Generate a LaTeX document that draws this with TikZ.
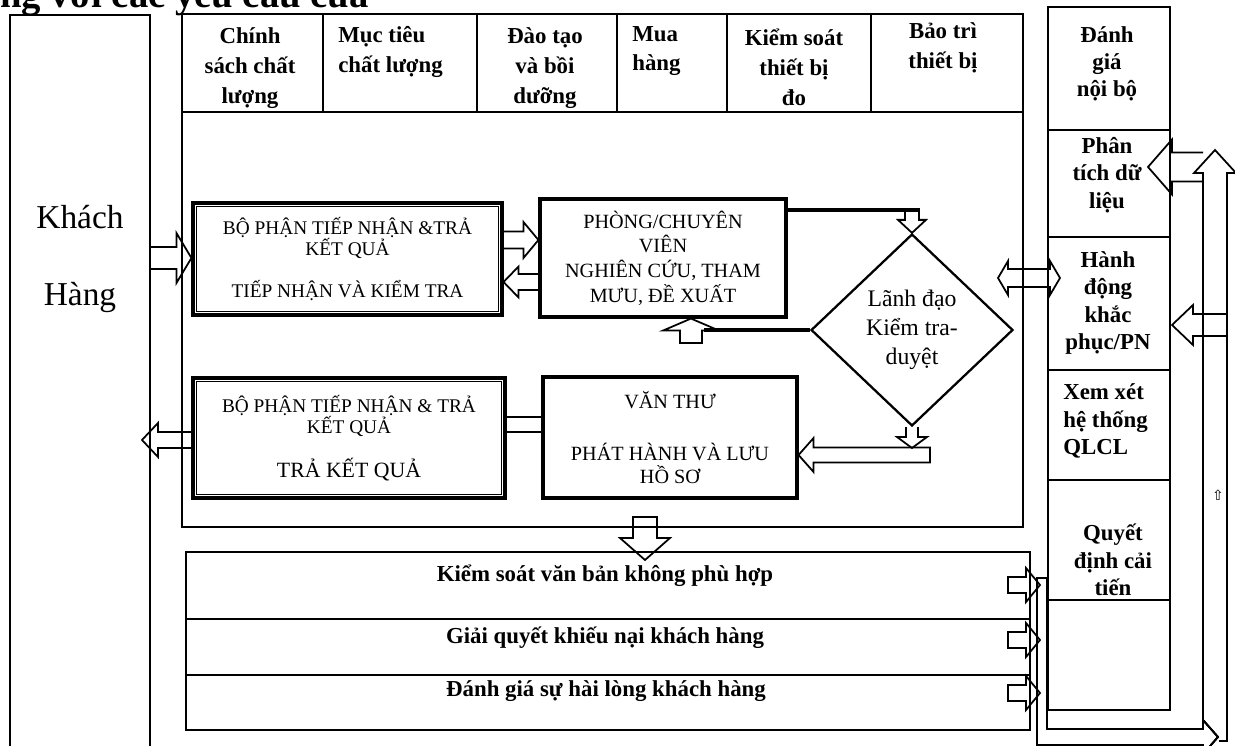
\documentclass[tikz,border=0pt]{standalone}
\usepackage{fontspec}
\setmainfont{Liberation Serif}
\newfontfamily\symfont{DejaVu Sans}
\usetikzlibrary{shapes.geometric,calc}

% block arrows: start, tip, head length (signed), shaft half, head half, closing
\newcommand{\harr}[6]{%
  \draw[blk] ($(#1)+(0,{-(#4)})$) -- ($(#2)+({-(#3)},{-(#4)})$) -- ($(#2)+({-(#3)},{-(#5)})$) -- (#2)
    -- ($(#2)+({-(#3)},{#5})$) -- ($(#2)+({-(#3)},{#4})$) -- ($(#1)+(0,{#4})$) #6;}
\newcommand{\varr}[6]{%
  \draw[blk] ($(#1)+({-(#4)},0)$) -- ($(#2)+({-(#4)},{-(#3)})$) -- ($(#2)+({-(#5)},{-(#3)})$) -- (#2)
    -- ($(#2)+({#5},{-(#3)})$) -- ($(#2)+({#4},{-(#3)})$) -- ($(#1)+({#4},0)$) #6;}

\begin{document}
\begin{tikzpicture}[x=0.02cm,y=-0.02cm,
  frame/.style={line width=.8pt},
  flow/.style={draw,line width=1.8pt,align=center,inner sep=0pt,font=\fontsize{11}{12}\selectfont},
  inset/.style={line width=.5pt},
  blk/.style={line width=1pt},
  thk/.style={line width=2.4pt},
  cell/.style={font=\fontsize{13}{17}\selectfont\bfseries,align=center,inner sep=0pt},
  side/.style={font=\fontsize{13}{15.5}\selectfont\bfseries,align=center,inner sep=0pt},
  row/.style={font=\fontsize{13}{15}\selectfont\bfseries,inner sep=0pt}]
\useasboundingbox (0,0) rectangle (1235,746);

% heading, cut by the page edge
\node[anchor=base west,inner sep=0pt,font=\fontsize{22}{22}\selectfont\bfseries] (head) at (0,8) {ng với các yêu cầu của};

% customer
\node[draw,frame,minimum width=2.8cm,minimum height=15.7cm] (kh) at (80,407.5) {};
\node[font=\fontsize{19}{23}\selectfont,align=center,inner sep=0pt] (khtxt) at (80,259) {Khách\\[21pt]Hàng};

% process frame and top row
\draw[frame] (182,14) rectangle (1023,527);
\draw[frame] (182,112) -- (1023,112);
\foreach \xx in {323,477,617,727,871} \draw[frame] (\xx,14) -- (\xx,112);
\node[cell] (cs) at (250,68) {Chính\\sách chất\\lượng};
\node[cell,align=left,anchor=west] (mt) at (338,52) {Mục tiêu\\chất lượng};
\node[cell] (dt) at (545,68) {Đào tạo\\và bồi\\dưỡng};
\node[cell,align=left,anchor=west] (mh) at (632,51) {Mua\\hàng};
\node[cell] (ks) at (794,67) {Kiểm soát\\thiết bị\\đo};
\node[cell] (bt) at (943,48) {Bảo trì\\thiết bị};

% flow
\node[flow,minimum width=6.18cm,minimum height=2.24cm] (bp1) at (347.5,259) {BỘ PHẬN TIẾP NHẬN \&TRẢ\\KẾT QUẢ\\[12pt]TIẾP NHẬN VÀ KIỂM TRA};
\node[flow,font=\fontsize{11.5}{14}\selectfont,minimum width=4.92cm,minimum height=2.36cm] (pcv) at (663,258) {PHÒNG/CHUYÊN\\VIÊN\\NGHIÊN CỨU, THAM\\MƯU, ĐỀ XUẤT};
\node[flow,minimum width=6.24cm,minimum height=2.4cm] (bp2) at (349,438) {BỘ PHẬN TIẾP NHẬN \& TRẢ\\KẾT QUẢ\\[11pt]{\fontsize{12.4}{14}\selectfont TRẢ KẾT QUẢ}};
\node[flow,font=\fontsize{11.5}{13.5}\selectfont,minimum width=5.08cm,minimum height=2.42cm] (vt) at (670,437.5) {VĂN THƯ\\[16pt]PHÁT HÀNH VÀ LƯU\\HỒ SƠ};
\node[diamond,draw,line width=1.3pt,inner sep=0pt,minimum width=4.04cm,minimum height=3.84cm,align=center,font=\fontsize{13.5}{16.4}\selectfont] (dld) at (912,330) {Lãnh đạo\\Kiểm tra-\\duyệt};
\foreach \bx in {bp1,bp2} \draw[inset] ($(\bx.south west)+(5,-5)$) rectangle ($(\bx.north east)+(-5,5)$);

\harr{kh.east |- 0,258}{bp1.west |- 0,258}{15}{11}{25}{}
\harr{bp1.east |- 0,240}{pcv.west |- 0,240}{15}{8.5}{18}{}
\harr{pcv.west |- 0,282}{bp1.east |- 0,282}{-15}{8}{15.5}{}
\draw[thk] (pcv.east |- 0,210) -- (920,210);
\varr{912,211}{dld.north}{13}{7}{14}{}
\draw[thk] (dld.west) -- (704,330);
\varr{691,343}{691,0 |- pcv.south}{-12}{11}{28}{-- cycle}
\varr{dld.south}{912,448}{11}{6}{15}{}
\harr{930,455}{vt.east |- 0,455}{-15}{7.5}{17}{-- cycle}
\draw[blk] (bp2.east |- 0,417) -- (vt.west |- 0,417) (bp2.east |- 0,432) -- (vt.west |- 0,432);
\coordinate (out) at (142,440);
\harr{bp2.west |- out}{out}{-16}{8}{17}{}
\varr{645,517}{645,560}{22}{12}{25}{-- cycle}

% support processes
\draw[frame] (186,552) rectangle (1030,730);
\draw[frame] (186,619) -- (1030,619) (186,675) -- (1030,675);
\node[row] (r1) at (605,576) {Kiểm soát văn bản không phù hợp};
\node[row] (r2) at (605,638) {Giải quyết khiếu nại khách hàng};
\node[row] (r3) at (606,691) {Đánh giá sự hài lòng khách hàng};

% improvement column
\draw[frame] (1048,7) rectangle (1170,710);
\foreach \yy in {130,237,370,480,600} \draw[frame] (1048,\yy) -- (1170,\yy);
\node[side] (dg) at (1107,64) {Đánh\\giá\\nội bộ};
\node[side] (pt) at (1107,175) {Phân\\tích dữ\\liệu};
\node[side] (hd) at (1108,303) {Hành\\động\\khắc\\phục/PN};
\node[side,align=left,anchor=west] (xx) at (1063,421) {Xem xét\\hệ thống\\QLCL};
\node[side] (qd) at (1113,560) {Quyết\\định cải\\tiến};

% return loop
\foreach \yy in {585,640,693} \harr{1008,\yy}{1040,\yy}{14}{8}{17}{-- cycle}
\draw[blk] (1037,760) -- (1037,578) -- (1047,578) -- (1047,729) -- (1203,729) -- (1203,720) -- (1218,737) -- (1203,754) -- (1203,745) -- (1037,745);
\varr{1215,722}{1215,150}{-23}{12}{21}{}
\draw[blk] (1227,722) -- (1227,741) -- (1219,741);
\harr{1203,167}{1148,167}{-24}{14.5}{27.5}{}
\harr{1227,325}{1172,325}{-21}{11}{20}{}
\draw[blk] (998,278) -- (1008,261) -- (1008,269) -- (1050,269) -- (1050,261) -- (1060,278) -- (1050,295) -- (1050,287) -- (1008,287) -- (1008,295) -- cycle;
\node[inner sep=0pt,font=\symfont\fontsize{8}{8}\selectfont] (upg) at (1218,495) {⇧};
\end{tikzpicture}
\end{document}
